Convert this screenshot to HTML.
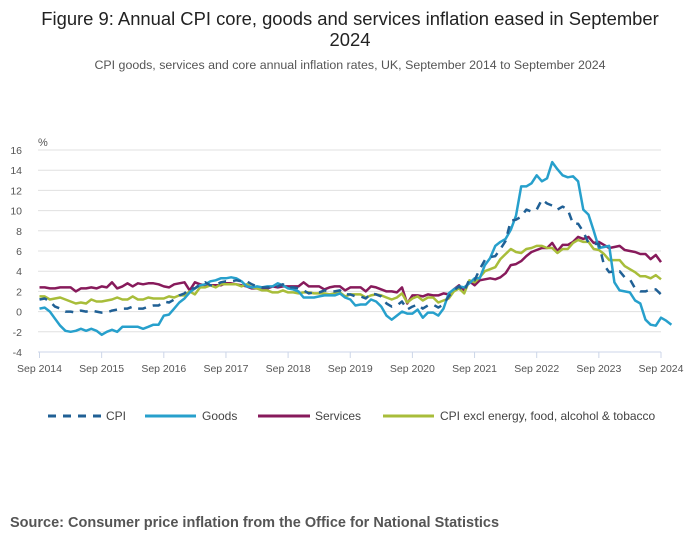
<!DOCTYPE html>
<html><head><meta charset="utf-8">
<style>
body{margin:0;background:#fff;font-family:"Liberation Sans",sans-serif;}
#wrap{position:relative;width:700px;height:549px;overflow:hidden;}
</style></head>
<body>
<div id="wrap">
<svg id="chart" width="700" height="549" xmlns="http://www.w3.org/2000/svg">
<text x="350" y="25" text-anchor="middle" font-size="18.4" fill="#222">Figure 9: Annual CPI core, goods and services inflation eased in September</text>
<text x="350" y="46" text-anchor="middle" font-size="18.4" fill="#222">2024</text>
<text x="350" y="69" text-anchor="middle" font-size="12.4" fill="#555">CPI goods, services and core annual inflation rates, UK, September 2014 to September 2024</text>
<text x="38" y="146" font-size="11" fill="#555">%</text>
<g id="grid"></g><g id="xaxis"></g><g id="series"></g>
<g>
<g><line x1="48" y1="416" x2="101" y2="416" stroke="#206095" stroke-width="3" stroke-dasharray="8,7"/><text x="106" y="420" font-size="12" fill="#444">CPI</text></g>
<g><line x1="145" y1="416" x2="196" y2="416" stroke="#27a0cc" stroke-width="3"/><text x="202" y="420" font-size="12" fill="#444">Goods</text></g>
<g><line x1="258" y1="416" x2="310" y2="416" stroke="#871a5b" stroke-width="3"/><text x="315" y="420" font-size="12" fill="#444">Services</text></g>
<g><line x1="383" y1="416" x2="434" y2="416" stroke="#a8bd3a" stroke-width="3"/><text x="440" y="420" font-size="12" fill="#444">CPI excl energy, food, alcohol &amp; tobacco</text></g>
</g>
<text x="10" y="527" font-size="14.5" font-weight="bold" fill="#555">Source: Consumer price inflation from the Office for National Statistics</text>
</svg>
</div>
<script>
const yTicks=[16,14,12,10,8,6,4,2,0,-2,-4];
const xLabels=["Sep 2014","Sep 2015","Sep 2016","Sep 2017","Sep 2018","Sep 2019","Sep 2020","Sep 2021","Sep 2022","Sep 2023","Sep 2024"];
const cpi=[1.2,1.3,1.0,0.5,0.3,0.0,0.0,-0.1,0.1,0.0,0.1,0.0,-0.1,-0.1,0.1,0.2,0.3,0.3,0.5,0.3,0.3,0.5,0.6,0.6,1.0,0.9,1.2,1.6,1.8,2.3,2.3,2.7,2.9,2.6,2.6,2.9,3.0,3.0,3.1,3.0,3.0,2.7,2.5,2.4,2.4,2.4,2.5,2.7,2.4,2.4,2.3,2.1,1.8,1.9,1.9,2.1,2.0,2.0,2.1,1.7,1.7,1.5,1.5,1.3,1.8,1.7,1.5,0.8,0.5,0.6,1.0,0.2,0.5,0.7,0.3,0.6,0.7,0.4,0.7,1.5,2.1,2.5,2.0,3.2,3.1,4.2,5.1,5.4,5.5,6.2,7.0,9.0,9.1,9.4,10.1,9.9,10.1,11.1,10.7,10.5,10.1,10.4,10.1,8.7,8.7,7.9,6.8,6.7,6.7,4.6,3.9,4.0,4.0,3.4,3.2,2.3,2.0,2.0,2.2,2.2,1.7];
const goods=[0.3,0.4,0.0,-0.7,-1.4,-1.9,-2.0,-1.9,-1.7,-1.9,-1.7,-1.9,-2.3,-2.0,-1.8,-2.0,-1.5,-1.5,-1.5,-1.5,-1.7,-1.5,-1.3,-1.3,-0.4,-0.3,0.3,0.9,1.3,1.9,2.3,2.6,2.7,3.0,3.1,3.3,3.3,3.4,3.3,3.0,2.5,2.4,2.5,2.4,2.5,2.5,2.8,2.6,2.3,2.2,2.0,1.4,1.4,1.4,1.5,1.6,1.6,1.6,1.8,1.4,1.2,0.6,0.7,0.7,1.2,1.0,0.5,-0.4,-0.8,-0.4,0.0,-0.2,-0.2,0.2,-0.6,-0.1,-0.1,-0.4,0.3,1.8,2.2,2.5,2.4,2.8,3.3,3.3,4.6,5.3,6.5,6.9,7.2,8.1,9.5,12.4,12.4,12.7,13.5,12.9,13.2,14.8,14.1,13.5,13.3,13.4,12.9,10.1,9.6,8.0,6.3,6.4,6.5,2.9,2.1,2.0,1.9,1.1,0.8,-0.8,-1.3,-1.4,-0.6,-0.9,-1.3];
const services=[2.4,2.4,2.3,2.3,2.4,2.4,2.4,2.0,2.3,2.3,2.4,2.3,2.5,2.4,2.9,2.3,2.5,2.8,2.5,2.8,2.7,2.8,2.8,2.7,2.5,2.4,2.7,2.8,2.9,2.1,2.9,2.7,2.6,2.6,2.6,2.6,2.8,2.8,2.7,2.6,2.5,2.3,2.3,2.3,2.3,2.5,2.4,2.5,2.5,2.5,2.5,2.9,2.5,2.5,2.5,2.2,2.4,2.5,2.5,2.1,2.4,2.4,2.4,2.0,2.5,2.4,2.2,2.0,2.0,1.9,2.4,0.8,1.6,1.6,1.5,1.7,1.6,1.6,1.8,1.7,2.2,2.6,2.1,3.0,2.6,3.1,3.2,3.3,3.2,3.4,3.8,4.6,4.7,5.0,5.5,5.9,6.1,6.3,6.3,6.8,6.0,6.6,6.6,6.9,7.4,7.2,7.4,6.8,6.9,6.6,6.3,6.4,6.5,6.1,6.0,5.9,5.7,5.7,5.2,5.6,4.9];
const core=[1.5,1.5,1.2,1.3,1.4,1.2,1.0,0.8,0.9,0.8,1.2,1.0,1.0,1.1,1.2,1.4,1.2,1.2,1.5,1.2,1.2,1.4,1.3,1.3,1.3,1.5,1.4,1.6,1.6,2.0,1.7,2.4,2.4,2.6,2.4,2.7,2.7,2.7,2.7,2.5,2.7,2.4,2.3,2.1,2.1,1.9,1.9,2.1,1.9,1.9,1.8,1.9,1.9,1.8,1.8,1.8,1.7,1.8,1.9,1.5,1.7,1.7,1.7,1.4,1.6,1.7,1.6,1.4,1.2,1.4,1.8,0.9,1.3,1.5,1.1,1.4,1.4,0.9,1.1,1.3,2.0,2.3,1.8,3.1,2.9,3.4,4.0,4.2,4.4,5.2,5.7,6.2,5.9,5.8,6.2,6.3,6.5,6.5,6.3,6.3,5.8,6.2,6.2,6.8,7.1,6.9,6.9,6.2,6.1,5.7,5.1,5.1,5.1,4.5,4.2,3.9,3.5,3.5,3.3,3.6,3.2];

const NS="http://www.w3.org/2000/svg";
const x0=39.5,x1=661,yTop=150,yBot=352;
function xs(i){return x0+(x1-x0)*i/120;}
function ys(v){return yTop+(16-v)*(yBot-yTop)/20;}
const grid=document.getElementById('grid');
yTicks.forEach(t=>{
  const l=document.createElementNS(NS,'line');
  l.setAttribute('x1',38);l.setAttribute('x2',661);l.setAttribute('y1',ys(t));l.setAttribute('y2',ys(t));
  l.setAttribute('stroke',t===-4?'#ccd6e8':'#e0e0e0');l.setAttribute('stroke-width',1);
  
  
  grid.appendChild(l);
  const tx=document.createElementNS(NS,'text');
  tx.setAttribute('x',22);tx.setAttribute('y',ys(t)+4);tx.setAttribute('text-anchor','end');
  tx.setAttribute('font-size','10.5');tx.setAttribute('fill','#555');tx.textContent=t;
  
  
  grid.appendChild(tx);
});
const xa=document.getElementById('xaxis');
xLabels.forEach((s,k)=>{
  const x=xs(k*12);
  const l=document.createElementNS(NS,'line');
  l.setAttribute('x1',x);l.setAttribute('x2',x);l.setAttribute('y1',yBot);l.setAttribute('y2',yBot+6);
  l.setAttribute('stroke','#ccd6e8');
  
  
  xa.appendChild(l);
  const tx=document.createElementNS(NS,'text');
  tx.setAttribute('x',x);tx.setAttribute('y',372);tx.setAttribute('text-anchor','middle');
  tx.setAttribute('font-size','10.5');tx.setAttribute('fill','#555');tx.textContent=s;
  
  
  xa.appendChild(tx);
});
const sg=document.getElementById('series');
function draw(arr,color,dash,name){
  const p=document.createElementNS(NS,'path');
  p.setAttribute('d',arr.map((v,i)=>(i?'L':'M')+xs(i).toFixed(1)+','+ys(v).toFixed(1)).join(''));
  p.setAttribute('fill','none');p.setAttribute('stroke',color);p.setAttribute('stroke-width',2.5);
  p.setAttribute('stroke-linejoin','round');
  if(dash)p.setAttribute('stroke-dasharray',dash);
  
  
  sg.appendChild(p);
}
draw(services,'#871a5b',null,'services-line');
draw(core,'#a8bd3a',null,'core-cpi-line');
draw(goods,'#27a0cc',null,'goods-line');
draw(cpi,'#206095','8,7','cpi-line');
</script>
</body></html>
